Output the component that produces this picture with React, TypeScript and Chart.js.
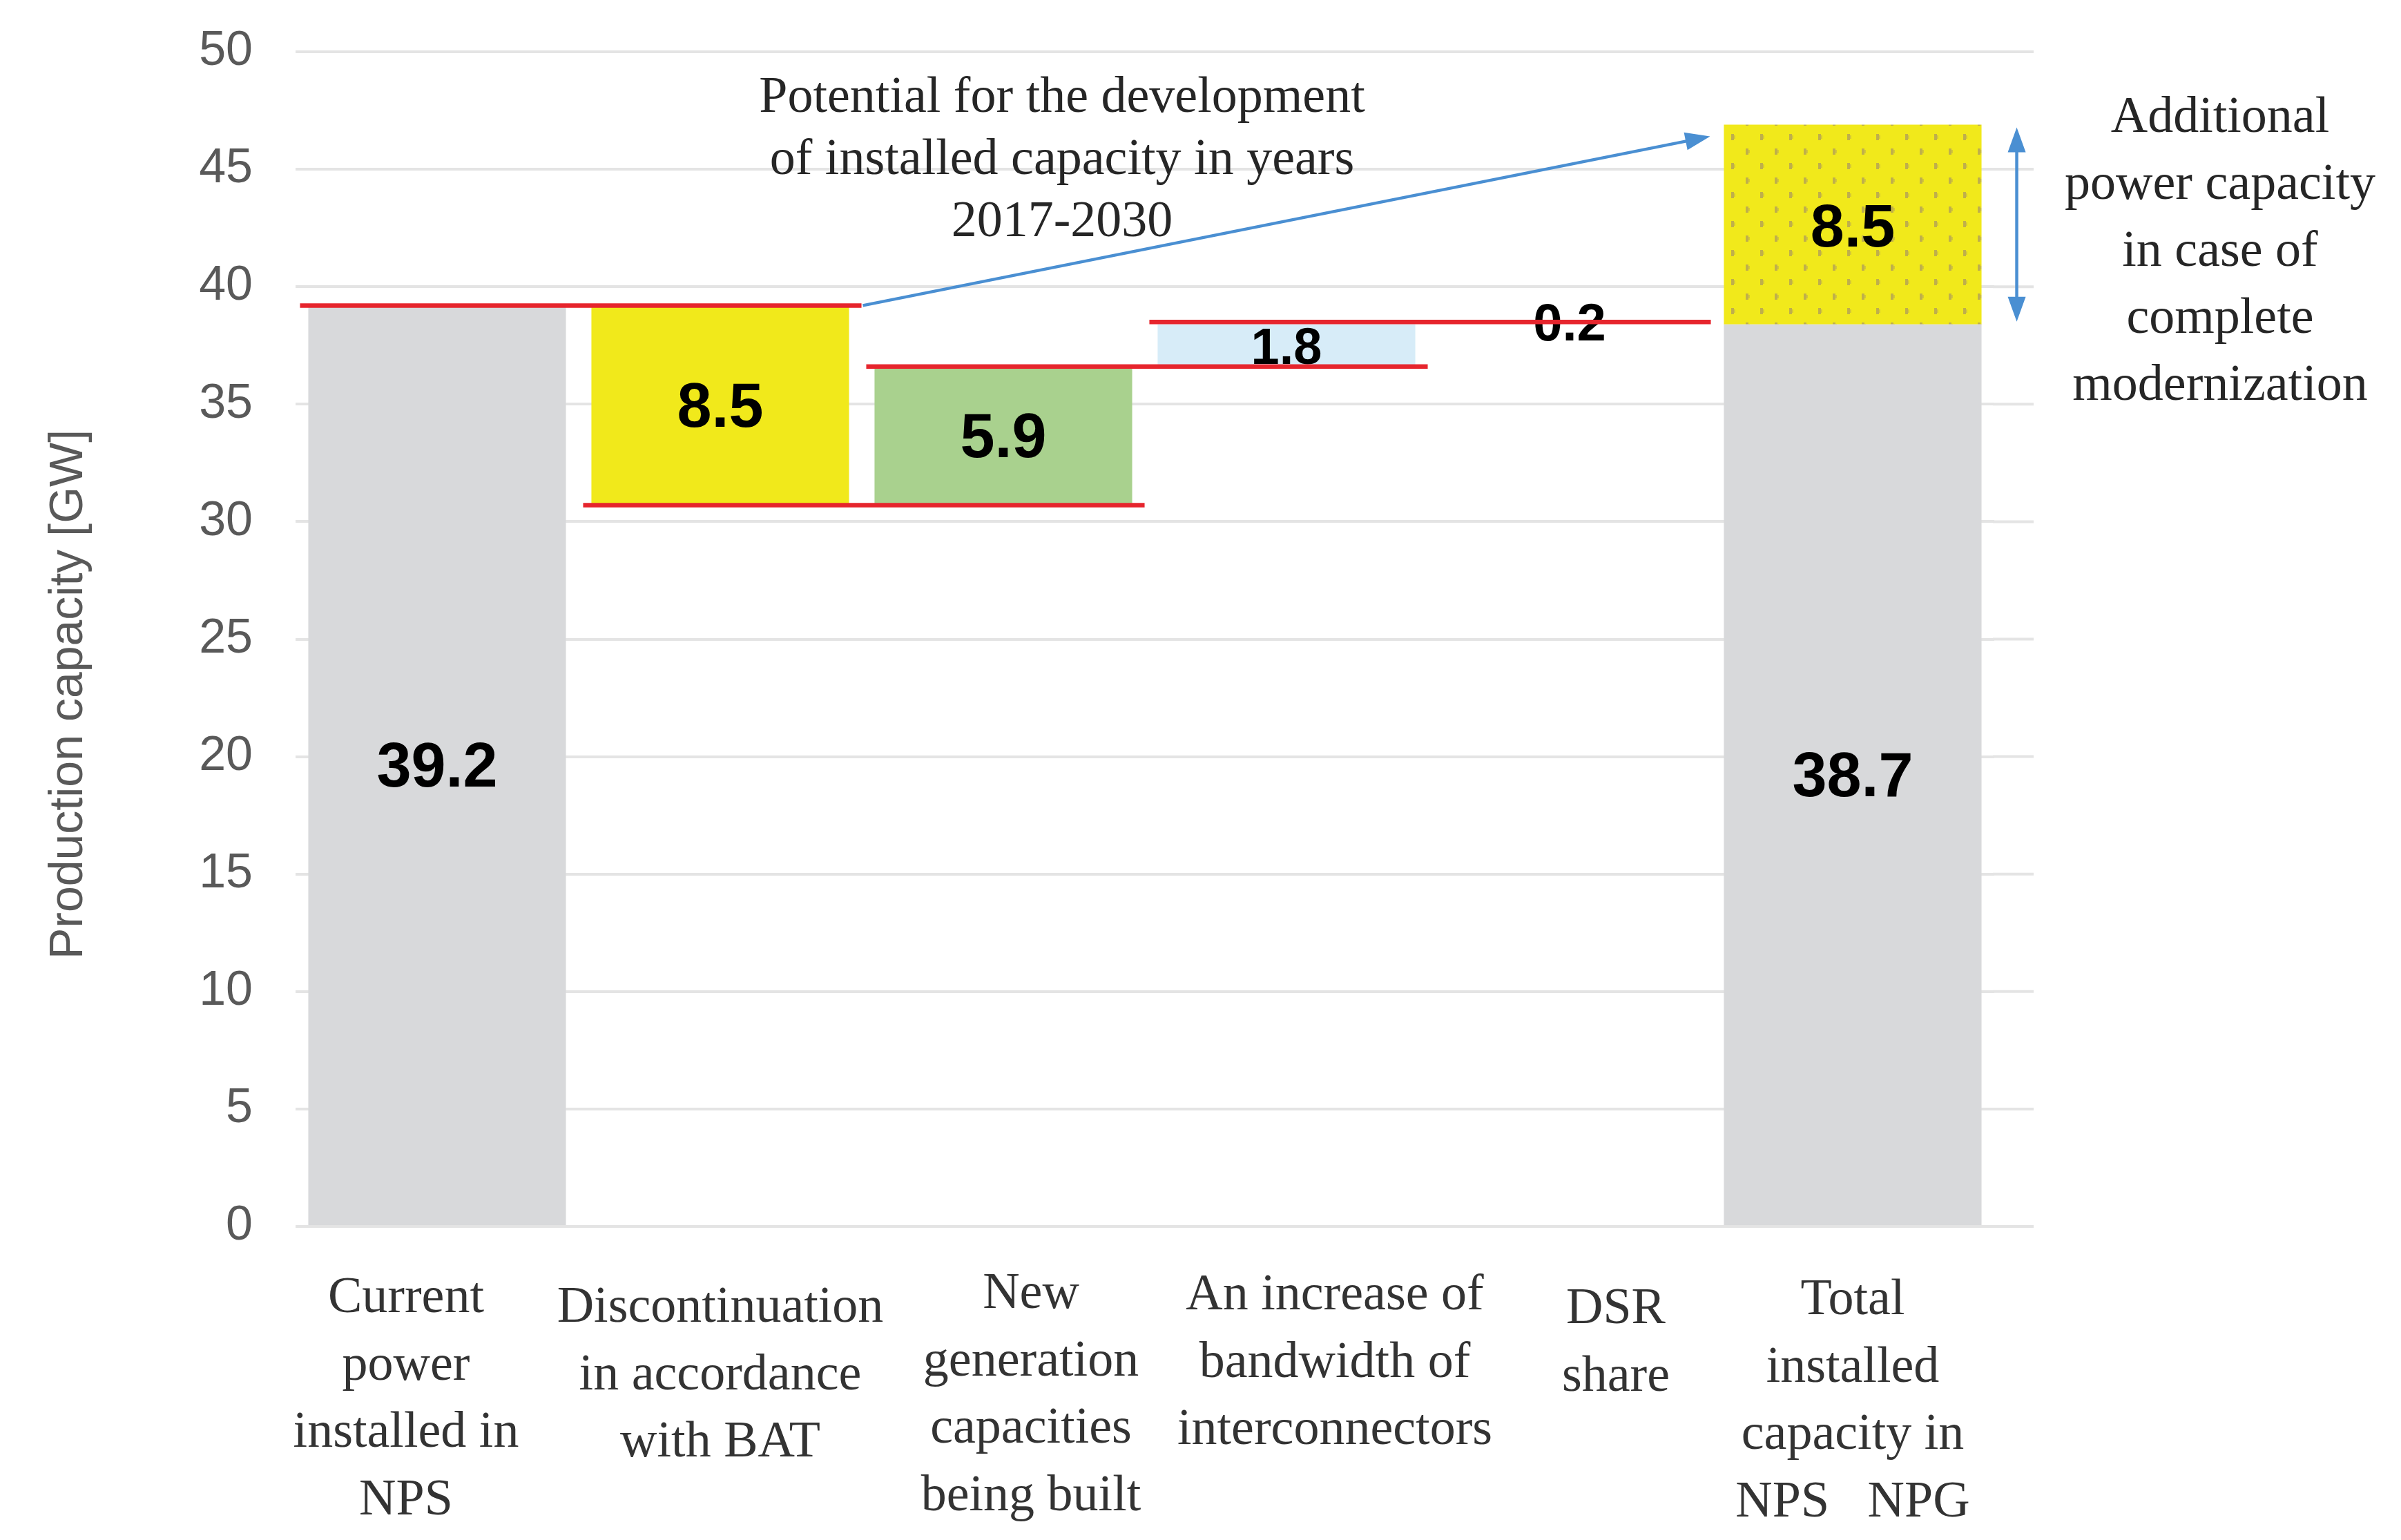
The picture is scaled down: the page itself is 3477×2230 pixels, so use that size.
import React, { useEffect, useRef } from "react";
import { Chart, registerables } from "chart.js";

Chart.register(...registerables);

// ---------- data ----------
const categories: string[][] = [
  ["Current", "power", "installed in", "NPS"],
  ["Discontinuation", "in accordance", "with BAT"],
  ["New", "generation", "capacities", "being built"],
  ["An increase of", "bandwidth of", "interconnectors"],
  ["DSR", "share"],
  ["Total", "installed", "capacity in", "NPS   NPG"],
];
const stepStart = [0, 30.7, 30.7, 36.6, 38.4, 0];
const stepEnd = [39.2, 39.2, 36.6, 38.4, 38.6, 38.4];
const stepLabels = ["39.2", "8.5", "5.9", "1.8", "0.2", "38.7"];
const modernStart = [null, null, null, null, null, 38.4];
const modernEnd = [null, null, null, null, null, 46.9];
const modernLabels = ["", "", "", "", "", "8.5"];
// red connector lines: value joining category i and i+1
const connectorValues = [39.2, 30.7, 36.6, 38.5];
const potentialArrowTarget = 46.4;
const potentialText = ["Potential for the development", "of installed capacity in years", "2017-2030"];
const modernText = ["Additional", "power capacity", "in case of", "complete", "modernization"];
const yTitle = "Production capacity [GW]";

// ---------- styles ----------
const stepColors = ["#d8d9db", "#f1e91b", "#a9d18e", "#d7ecf8", "rgba(0,0,0,0)", "#d8d9db"];
const labelSizes = [90, 90, 90, 74, 76, 90];
const catOffsetX = [-45, 0, 40, 70, 67, 0];
const catOffsetY = [4, 18, -2, 0, 20, 7];
const SERIF = "'Liberation Serif', 'Times New Roman', serif";
const SANS = "'Liberation Sans', Arial, sans-serif";
const RED = "#e6252d";
const BLUE = "#4a8fd2";
const GRID = "#e4e4e4";

function makePattern(): CanvasPattern | string {
  const c = document.createElement("canvas");
  c.width = 42;
  c.height = 42;
  const g = c.getContext("2d");
  if (!g) return "#f1e91b";
  g.fillStyle = "#f1e91b";
  g.fillRect(0, 0, 42, 42);
  g.fillStyle = "rgba(170,150,95,0.7)";
  g.fillRect(8, 5, 4, 9);
  g.fillRect(29, 26, 4, 9);
  g.fillStyle = "rgba(170,150,95,0.4)";
  g.fillRect(12, 7, 2, 5);
  g.fillRect(33, 28, 2, 5);
  const p = g.createPattern(c, "repeat");
  return p || "#f1e91b";
}

function arrowHead(ctx: CanvasRenderingContext2D, x: number, y: number, ang: number, len: number, half: number) {
  ctx.beginPath();
  ctx.moveTo(x, y);
  ctx.lineTo(x - len * Math.cos(ang) + half * Math.sin(ang), y - len * Math.sin(ang) - half * Math.cos(ang));
  ctx.lineTo(x - len * Math.cos(ang) - half * Math.sin(ang), y - len * Math.sin(ang) + half * Math.cos(ang));
  ctx.closePath();
  ctx.fill();
}

const overlayPlugin = {
  id: "overlay",
  beforeDatasetsDraw(chart: any) {
    // extend the horizontal gridlines a little beyond the plot's right edge
    const { ctx, chartArea } = chart;
    const y = chart.scales.y;
    ctx.save();
    ctx.strokeStyle = GRID;
    ctx.lineWidth = 4;
    y.ticks.forEach((t: any) => {
      const py = y.getPixelForValue(t.value);
      ctx.beginPath();
      ctx.moveTo(chartArea.right - 2, py);
      ctx.lineTo(chartArea.right + 57, py);
      ctx.stroke();
    });
    ctx.restore();
  },
  afterDatasetsDraw(chart: any) {
    const { ctx, chartArea } = chart;
    const y = chart.scales.y;
    const x = chart.scales.x;
    const m0 = chart.getDatasetMeta(0).data;
    const m1 = chart.getDatasetMeta(1).data;
    ctx.save();

    // value labels
    ctx.fillStyle = "#000";
    ctx.textAlign = "center";
    ctx.textBaseline = "middle";
    m0.forEach((bar: any, i: number) => {
      ctx.font = `bold ${labelSizes[i]}px ${SANS}`;
      ctx.fillText(stepLabels[i], bar.x, (bar.y + bar.base) / 2 + 6);
    });
    m1.forEach((bar: any, i: number) => {
      if (!modernLabels[i] || modernEnd[i] == null) return;
      ctx.font = `bold 88px ${SANS}`;
      ctx.fillText(modernLabels[i], bar.x, (bar.y + bar.base) / 2 + 8);
    });

    // red connectors
    ctx.strokeStyle = RED;
    ctx.lineWidth = 6.5;
    connectorValues.forEach((v, i) => {
      const a = m0[i];
      const b = m0[i + 1];
      const x1 = a.x - a.width / 2 - 12;
      const x2 = b.x + b.width / 2 + 18;
      const py = y.getPixelForValue(v);
      ctx.beginPath();
      ctx.moveTo(x1, py);
      ctx.lineTo(x2, py);
      ctx.stroke();
    });

    // blue arrow: potential
    const last = m1[m1.length - 1];
    const b1 = m0[1];
    const ax1 = b1.x + b1.width / 2 + 20;
    const ay1 = y.getPixelForValue(connectorValues[0]);
    const ax2 = last.x - last.width / 2 - 20;
    const ay2 = y.getPixelForValue(potentialArrowTarget);
    ctx.strokeStyle = BLUE;
    ctx.fillStyle = BLUE;
    ctx.lineWidth = 4.5;
    const ang = Math.atan2(ay2 - ay1, ax2 - ax1);
    ctx.beginPath();
    ctx.moveTo(ax1, ay1);
    ctx.lineTo(ax2 - 30 * Math.cos(ang), ay2 - 30 * Math.sin(ang));
    ctx.stroke();
    arrowHead(ctx, ax2, ay2, ang, 36, 13);

    // double arrow beside modernization bar
    const dx = last.x + last.width / 2 + 51;
    const dTop = y.getPixelForValue(modernEnd[5] as number) + 4;
    const dBot = y.getPixelForValue(modernStart[5] as number) - 4;
    ctx.beginPath();
    ctx.moveTo(dx, dTop + 30);
    ctx.lineTo(dx, dBot - 30);
    ctx.stroke();
    arrowHead(ctx, dx, dTop, -Math.PI / 2, 36, 13);
    arrowHead(ctx, dx, dBot, Math.PI / 2, 36, 13);

    // annotation texts
    ctx.fillStyle = "#262626";
    ctx.font = `74px ${SERIF}`;
    ctx.textAlign = "center";
    ctx.textBaseline = "middle";
    const px = m0[2].x + 85;
    const pyStart = chartArea.top + 68;
    potentialText.forEach((t, i) => ctx.fillText(t, px, pyStart + i * 90));

    const rx = chartArea.right + 327;
    const ryStart = chartArea.top + 97;
    modernText.forEach((t, i) => ctx.fillText(t, rx, ryStart + i * 97));

    // category labels (positioned from the category scale)
    ctx.fillStyle = "#333333";
    categories.forEach((lines, i) => {
      const cx = x.getPixelForValue(i) + catOffsetX[i];
      const cy = chartArea.bottom + 101 + catOffsetY[i];
      lines.forEach((t, j) => ctx.fillText(t, cx, cy + j * 97.5));
    });

    // y title
    ctx.save();
    ctx.translate(chartArea.left - 328, (chartArea.top + chartArea.bottom) / 2 + 80);
    ctx.rotate(-Math.PI / 2);
    ctx.font = `68px ${SANS}`;
    ctx.fillStyle = "#595959";
    ctx.fillText(yTitle, 0, 0);
    ctx.restore();

    ctx.restore();
  },
};

export default function App() {
  const ref = useRef<HTMLCanvasElement | null>(null);

  useEffect(() => {
    document.body.style.margin = "0";
    const canvas = ref.current;
    if (!canvas) return;
    const pattern = makePattern();
    const chart = new Chart(canvas, {
      type: "bar",
      data: {
        labels: categories,
        datasets: [
          {
            data: stepStart.map((s, i) => [s, stepEnd[i]]) as any,
            backgroundColor: stepColors,
            borderWidth: 0,
            barPercentage: 0.91,
            categoryPercentage: 1,
            grouped: false,
          } as any,
          {
            data: modernStart.map((s, i) => (s == null ? null : [s, modernEnd[i]])) as any,
            backgroundColor: pattern as any,
            borderWidth: 0,
            barPercentage: 0.91,
            categoryPercentage: 1,
            grouped: false,
          } as any,
        ],
      },
      options: {
        animation: false,
        responsive: false,
        devicePixelRatio: 1,
        layout: { padding: { top: 75, right: 589, left: 0, bottom: 0 } },
        plugins: {
          legend: { display: false },
          tooltip: { enabled: false },
          title: { display: false },
        },
        scales: {
          x: {
            grid: { display: false, drawTicks: false },
            border: { display: false },
            ticks: { display: false },
            afterFit: (scale: any) => {
              scale.height = 454;
            },
          },
          y: {
            min: 0,
            max: 50,
            ticks: {
              stepSize: 5,
              color: "#595959",
              font: { family: SANS, size: 70 },
              padding: 62,
            },
            grid: { color: GRID, lineWidth: 4, drawTicks: false },
            border: { display: false },
            afterFit: (scale: any) => {
              scale.width = 428;
              scale.paddingTop = 0;
              scale.paddingBottom = 0;
            },
          },
        },
      } as any,
      plugins: [overlayPlugin],
    });
    return () => chart.destroy();
  }, []);

  return (
    <div style={{ width: 3477, height: 2230, background: "#fff" }}>
      <canvas ref={ref} width={3477} height={2230} style={{ display: "block" }} />
    </div>
  );
}
